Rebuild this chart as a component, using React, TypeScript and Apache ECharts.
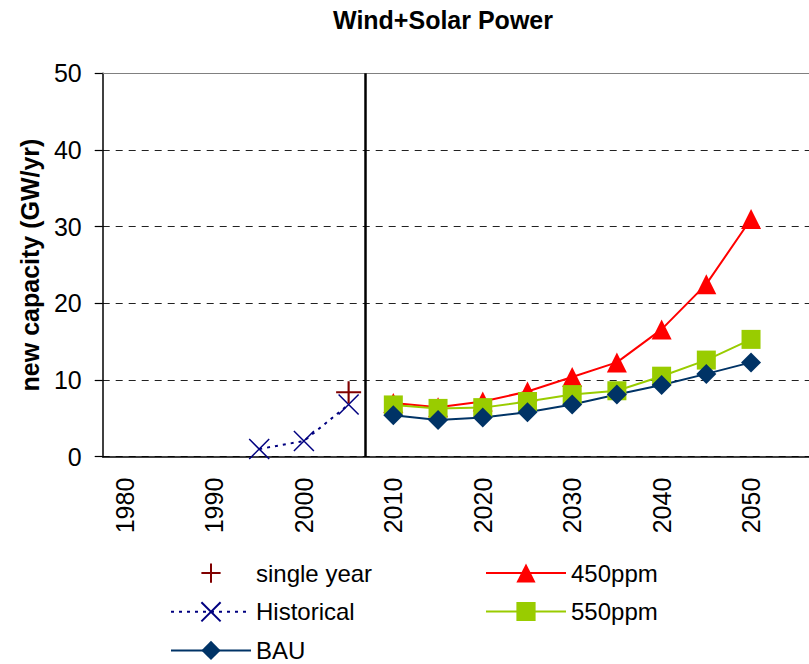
import React, { useEffect, useRef } from 'react';
import * as echarts from 'echarts';

const categories = ['1980', '1985', '1990', '1995', '2000', '2005', '2010', '2015', '2020', '2025', '2030', '2035', '2040', '2045', '2050', '2055'];
const historical = [null, null, null, 1.0, 2.05, 6.8, null, null, null, null, null, null, null, null, null, null];
const singleYear = [null, null, null, null, null, 8.4, null, null, null, null, null, null, null, null, null, null];
const bau = [null, null, null, null, null, null, 5.4, 4.8, 5.1, 5.8, 6.8, 8.1, 9.35, 10.8, 12.3, null];
const ppm550 = [null, null, null, null, null, null, 6.75, 6.3, 6.4, 7.2, 8.1, 8.6, 10.5, 12.6, 15.3, null];
const ppm450 = [null, null, null, null, null, null, 7.0, 6.45, 7.2, 8.5, 10.4, 12.3, 16.6, 22.5, 31.0, null];
const yMin = 0;
const yMax = 50;
const yInterval = 10;
const projectionStartYear = 2006.9;
const yearAxisMin = 1977.5;
const yearAxisMax = 2057.5;

const FONT = '"Liberation Sans", Arial, sans-serif';
const X_PATH = 'path://M0,0L20,20M20,0L0,20';
const PLUS_PATH = 'path://M0,10L20,10M10,0L10,20';

export default function App() {
  const ref = useRef<HTMLDivElement>(null);
  useEffect(() => {
    if (!ref.current) return;
    const chart = echarts.init(ref.current, null, { renderer: 'svg' });
    const legendCommon = {
      orient: 'vertical' as const,
      top: 561,
      padding: 0,
      itemWidth: 80,
      itemHeight: 24,
      itemGap: 14.5,
      textStyle: { fontSize: 24, fontFamily: FONT, color: '#000' },
    };
    chart.setOption({
      animation: false,
      backgroundColor: '#fff',
      title: {
        text: 'Wind+Solar Power',
        left: 333,
        top: 7,
        padding: 0,
        textStyle: { fontSize: 25, fontWeight: 'bold', fontFamily: FONT, color: '#000' },
      },
      legend: [
        { ...legendCommon, left: 170, data: ['single year', 'Historical', 'BAU'] },
        { ...legendCommon, left: 485, data: ['450ppm', '550ppm'] },
      ],
      grid: { left: 102.7, right: 11.9, top: 73.3, bottom: 207.3 },
      xAxis: [
        {
          type: 'category',
          data: categories,
          boundaryGap: true,
          axisLine: { lineStyle: { color: '#000', width: 1.5 } },
          axisTick: { interval: 0, length: 8, lineStyle: { color: '#000', width: 1.2 } },
          axisLabel: { interval: 1, rotate: 90, margin: 21, fontSize: 25, fontFamily: FONT, color: '#000' },
          splitLine: { show: false },
        },
        {
          type: 'value',
          position: 'top',
          min: yearAxisMin,
          max: yearAxisMax,
          axisLine: { show: true, onZero: false, lineStyle: { color: '#808080', width: 1.2 } },
          axisTick: { show: false },
          axisLabel: { show: false },
          splitLine: { show: false },
        },
      ],
      yAxis: {
        type: 'value',
        min: yMin,
        max: yMax,
        interval: yInterval,
        name: 'new capacity (GW/yr)',
        nameLocation: 'middle',
        nameRotate: 90,
        nameGap: 54,
        nameTextStyle: { fontSize: 25, fontWeight: 'bold', fontFamily: FONT, color: '#000' },
        axisLine: { show: true, lineStyle: { color: '#000', width: 1.5 } },
        axisTick: { show: true, length: 8, lineStyle: { color: '#000', width: 1.2 } },
        axisLabel: { margin: 21, fontSize: 25, fontFamily: FONT, color: '#000' },
        splitLine: { show: true, lineStyle: { color: '#222', width: 1, type: [7, 6] } },
      },
      series: [
        {
          name: '450ppm',
          type: 'line',
          data: ppm450,
          symbol: 'triangle',
          symbolSize: 20,
          itemStyle: { color: '#FF0000' },
          lineStyle: { color: '#FF0000', width: 2 },
        },
        {
          name: '550ppm',
          type: 'line',
          data: ppm550,
          symbol: 'rect',
          symbolSize: 19,
          itemStyle: { color: '#99CC00' },
          lineStyle: { color: '#99CC00', width: 2 },
        },
        {
          name: 'BAU',
          type: 'line',
          data: bau,
          symbol: 'diamond',
          symbolSize: 20,
          itemStyle: { color: '#003366' },
          lineStyle: { color: '#003366', width: 2 },
        },
        {
          name: 'Historical',
          type: 'line',
          data: historical,
          symbol: X_PATH,
          symbolSize: 20,
          itemStyle: { color: 'none', borderColor: '#000080', borderWidth: 1.5 },
          lineStyle: { color: '#000080', width: 2, type: [3, 5] },
        },
        {
          name: 'single year',
          type: 'line',
          data: singleYear,
          symbol: PLUS_PATH,
          symbolSize: [25, 22],
          itemStyle: { color: 'none', borderColor: '#800000', borderWidth: 2 },
          lineStyle: { color: '#800000', width: 0, opacity: 0 },
        },
        {
          name: 'divider',
          type: 'line',
          xAxisIndex: 1,
          data: [],
          silent: true,
          markLine: {
            silent: true,
            symbol: 'none',
            label: { show: false },
            lineStyle: { color: '#000', width: 2.5, type: 'solid' },
            data: [{ xAxis: projectionStartYear }],
          },
        },
      ],
    });
    return () => chart.dispose();
  }, []);
  return (
    <div style={{ position: 'absolute', left: 0, top: 0, width: 809, height: 664, overflow: 'hidden', background: '#fff' }}>
      <div ref={ref} style={{ width: 830, height: 664 }} />
    </div>
  );
}
